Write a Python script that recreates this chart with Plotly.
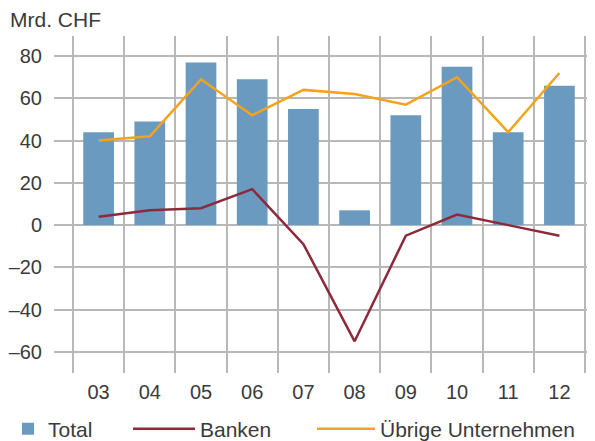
import plotly.graph_objects as go

years = ["03", "04", "05", "06", "07", "08", "09", "10", "11", "12"]
total = [44, 49, 77, 69, 55, 7, 52, 75, 44, 66]
banken = [4, 7, 8, 17, -9, -55, -5, 5, 0, -5]
uebrige = [40, 42, 69, 52, 64, 62, 57, 70, 44, 72]
y_ticks = [-60, -40, -20, 0, 20, 40, 60, 80]
y_labels = ["–60", "–40", "–20", "0", "20", "40", "60", "80"]

xs = list(range(len(years)))
FONT = "Liberation Sans, Arial, sans-serif"
TXT = "#3a3a3a"
GRID = "#b8b8b8"
OFF = 8  # page body margin
W, H = 595 - OFF, 441 - OFF

fig = go.Figure()
fig.add_trace(go.Bar(x=xs, y=total, name="Total", marker_color="#6a9abf",
                     marker_line_width=0, width=0.6, legend="legend"))
fig.add_trace(go.Scatter(x=xs, y=banken, name="Banken", mode="lines",
                         line=dict(color="#8c2a3b", width=2.5), legend="legend2"))
fig.add_trace(go.Scatter(x=xs, y=uebrige, name="Übrige Unternehmen", mode="lines",
                         line=dict(color="#f5a31c", width=2.5), legend="legend3"))

leg = dict(orientation="h", yanchor="middle", y=1 - (429 - OFF) / H, xanchor="left",
           xref="container", yref="container",
           font=dict(family=FONT, size=21, color=TXT), bgcolor="rgba(0,0,0,0)",
           tracegroupgap=0)
fig.update_layout(
    width=W, height=H,
    margin=dict(l=54 - OFF, r=0, t=36 - OFF, b=H - (373 - OFF), autoexpand=False),
    paper_bgcolor="white", plot_bgcolor="white",
    font=dict(family=FONT, size=20, color=TXT),
    showlegend=True,
    legend=dict(leg, x=(-5 - OFF) / W, itemwidth=30),
    legend2=dict(leg, x=(128 - OFF) / W, itemwidth=62),
    legend3=dict(leg, x=(312 - OFF) / W, itemwidth=58),
    title=dict(text="Mrd. CHF", x=(10 - OFF) / W, xref="container", xanchor="left",
               y=1 - (20 - OFF) / H, yref="container", yanchor="middle",
               font=dict(family=FONT, size=21, color=TXT)),
    bargap=0.4,
)
fig.update_xaxes(
    range=[-0.871, 9.695], tickmode="array", tickvals=xs, ticktext=years,
    showgrid=False, zeroline=False, showline=False,
    ticks="outside", ticklen=1, tickcolor="rgba(0,0,0,0)",
    minor=dict(tickmode="array", tickvals=[i - 0.5 for i in range(len(years) + 1)],
               showgrid=True, gridcolor=GRID, gridwidth=1.5, ticks=""),
    tickfont=dict(size=20),
)
fig.update_yaxes(
    range=[-70, 89.5], tickmode="array", tickvals=y_ticks, ticktext=y_labels,
    showgrid=True, gridcolor=GRID, gridwidth=1.5, zeroline=True,
    zerolinecolor=GRID, zerolinewidth=1.5, showline=False,
    ticks="outside", ticklen=7, tickcolor="rgba(0,0,0,0)",
    tickfont=dict(size=20),
)
fig.write_html("out.html")
